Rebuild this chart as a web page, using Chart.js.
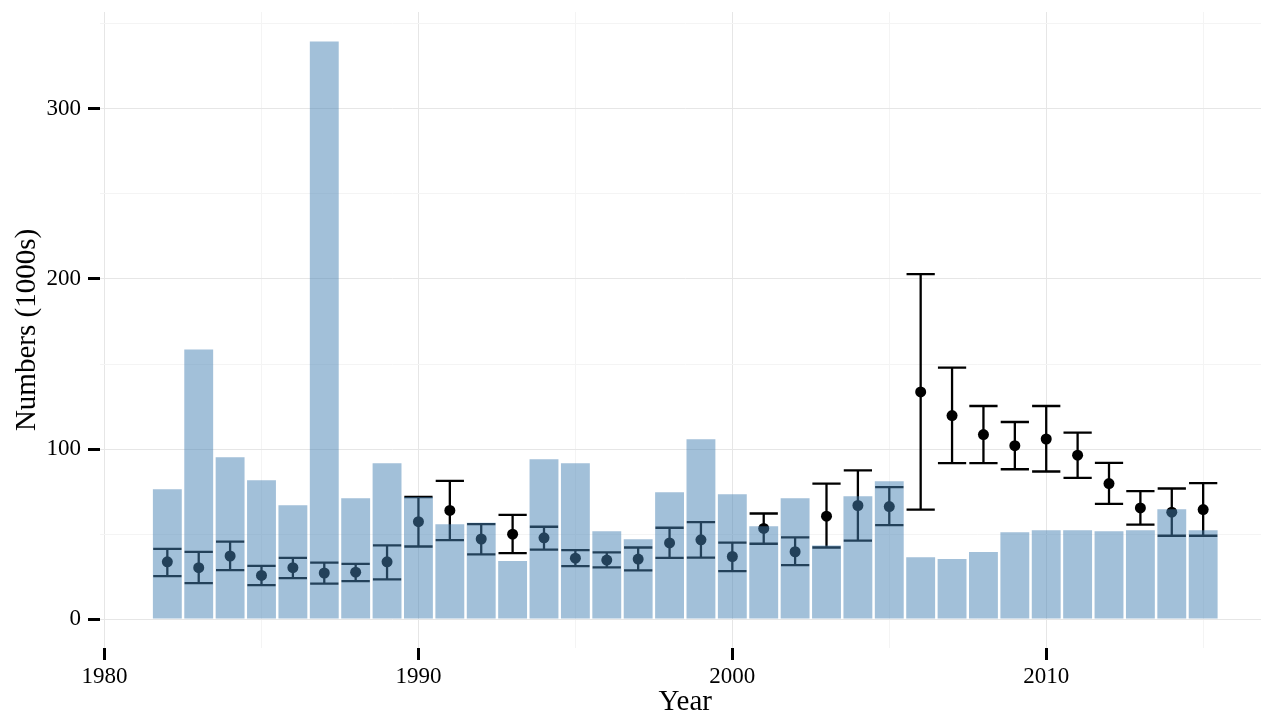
<!DOCTYPE html>
<html>
<head>
<meta charset="utf-8">
<script src="https://cdn.jsdelivr.net/npm/chart.js@4/dist/chart.umd.min.js"></script>
<style>
html,body{margin:0;padding:0;background:#ffffff;overflow:hidden;}
#wrap{width:1261px;height:717px;position:relative;overflow:hidden;}
#inner{width:1276px;height:717px;position:absolute;left:0;top:0;}
</style>
</head>
<body>
<div id="wrap"><div id="inner"><canvas id="c"></canvas></div></div>
<script>
// ---- data ----
const years = [1982,1983,1984,1985,1986,1987,1988,1989,1990,1991,1992,1993,1994,1995,1996,1997,1998,1999,2000,2001,2002,2003,2004,2005,2006,2007,2008,2009,2010,2011,2012,2013,2014,2015];
const barValues = [76.4,158.6,95.2,81.7,66.9,339.6,71.1,91.7,71.8,55.7,56.6,34.2,94.0,91.7,51.7,47.0,74.6,105.8,73.4,54.6,71.1,43.3,72.3,81.1,36.4,35.3,39.4,51.1,52.3,52.3,51.7,52.3,64.6,52.3];
const estimate = [33.7,30.2,37.1,25.7,30.2,27.1,27.6,33.7,57.3,63.9,47.1,49.9,47.8,35.8,34.7,35.3,44.8,46.6,36.8,53.3,39.6,60.5,66.8,66.2,133.6,119.7,108.5,102.0,105.9,96.4,79.7,65.4,62.9,64.4];
const lower = [25.3,21.1,28.8,20.0,24.1,20.9,22.3,23.4,42.7,46.4,38.1,38.8,40.9,31.1,30.4,28.6,36.0,36.2,28.2,44.3,31.7,42.1,46.2,55.2,64.4,91.7,91.7,88.1,86.8,83.0,67.8,55.6,49.0,49.0];
const upper = [41.3,39.5,45.5,31.3,36.0,33.2,32.5,43.4,71.8,81.3,55.9,61.3,54.3,40.5,39.2,42.1,53.7,57.0,45.0,62.1,48.0,79.7,87.4,77.6,202.9,147.9,125.3,115.9,125.3,109.7,91.9,75.2,76.8,79.9];
const xMajorTicks = [1980,1990,2000,2010];
const xMinorTicks = [1985,1995,2005,2015];
const yMajorTicks = [0,100,200,300];
const yMinorTicks = [50,150,250,350];
const xTitle = 'Year';
const yTitle = 'Numbers (1000s)';

// ---- build datasets ----
const CAP = 0.45;
const barData = years.map((x,i)=>({x:x, y:barValues[i]}));
const pointData = years.map((x,i)=>({x:x, y:estimate[i]}));
const whiskerData = [];
const capData = [];
years.forEach((x,i)=>{
  whiskerData.push({x:x, y:lower[i]}, {x:x, y:upper[i]}, {x:x, y:null});
  capData.push({x:x-CAP, y:upper[i]}, {x:x+CAP, y:upper[i]}, {x:x, y:null});
  capData.push({x:x-CAP, y:lower[i]}, {x:x+CAP, y:lower[i]}, {x:x, y:null});
});

const FONT = "'Liberation Serif', 'Times New Roman', serif";
Chart.defaults.font.family = FONT;
Chart.defaults.color = '#000000';

const isMajor = (v, arr) => arr.indexOf(v) !== -1;
const setTicks = (scale, major, minor) => {
  scale.ticks = major.concat(minor).sort((a,b)=>a-b).map(v=>({value:v}));
};

new Chart(document.getElementById('c'), {
  type: 'bar',
  data: {
    datasets: [
      {
        type: 'bar',
        data: barData,
        backgroundColor: 'rgba(70,130,180,0.5)',
        borderWidth: 0,
        barPercentage: 0.92,
        categoryPercentage: 1.0,
        order: 0
      },
      {
        type: 'line',
        data: whiskerData,
        borderColor: '#000000',
        borderWidth: 2.3,
        pointRadius: 0,
        spanGaps: false,
        tension: 0,
        fill: false,
        order: 2
      },
      {
        type: 'line',
        data: capData,
        borderColor: '#000000',
        borderWidth: 2.3,
        pointRadius: 0,
        spanGaps: false,
        tension: 0,
        fill: false,
        order: 2
      },
      {
        type: 'line',
        data: pointData,
        showLine: false,
        pointRadius: 5.5,
        pointBackgroundColor: '#000000',
        pointBorderWidth: 0,
        order: 1
      }
    ]
  },
  options: {
    responsive: true,
    maintainAspectRatio: false,
    animation: false,
    layout: { padding: { top: 12, right: 0, left: 0, bottom: 0 } },
    plugins: { legend: { display: false }, tooltip: { enabled: false } },
    scales: {
      x: {
        type: 'linear',
        min: 1979.855,
        max: 2017.145,
        offset: false,
        border: { display: false },
        afterBuildTicks: s => setTicks(s, xMajorTicks, xMinorTicks),
        afterFit: s => { s.height = 69; s.paddingLeft = 0; s.paddingRight = 0; },
        grid: {
          offset: false,
          color: c => isMajor(c.tick.value, xMajorTicks) ? '#E6E6E6' : '#F4F4F4',
          lineWidth: 1,
          tickColor: c => isMajor(c.tick.value, xMajorTicks) ? '#000000' : 'rgba(0,0,0,0)',
          tickLength: 12,
          tickWidth: 3
        },
        ticks: {
          autoSkip: false,
          maxRotation: 0,
          padding: 3,
          color: '#000000',
          font: { size: 23, family: FONT },
          callback: v => isMajor(v, xMajorTicks) ? String(v) : ''
        },
        title: {
          display: true,
          text: xTitle,
          color: '#000000',
          font: { size: 29, family: FONT, lineHeight: 1 },
          padding: { top: 0, bottom: 0 }
        }
      },
      y: {
        type: 'linear',
        min: -17,
        max: 357,
        border: { display: false },
        afterBuildTicks: s => setTicks(s, yMajorTicks, yMinorTicks),
        afterFit: s => { s.width = 100; s.paddingTop = 0; s.paddingBottom = 0; },
        grid: {
          color: c => isMajor(c.tick.value, yMajorTicks) ? '#E6E6E6' : '#F4F4F4',
          lineWidth: 1,
          tickColor: c => isMajor(c.tick.value, yMajorTicks) ? '#000000' : 'rgba(0,0,0,0)',
          tickLength: 12,
          tickWidth: 3
        },
        ticks: {
          autoSkip: false,
          padding: 7,
          color: '#000000',
          font: { size: 23, family: FONT },
          callback: v => isMajor(v, yMajorTicks) ? String(v) : ''
        },
        title: {
          display: true,
          text: yTitle,
          color: '#000000',
          font: { size: 29, family: FONT, lineHeight: 1 },
          padding: { top: 13, bottom: 0 }
        }
      }
    }
  }
});
</script>
</body>
</html>
